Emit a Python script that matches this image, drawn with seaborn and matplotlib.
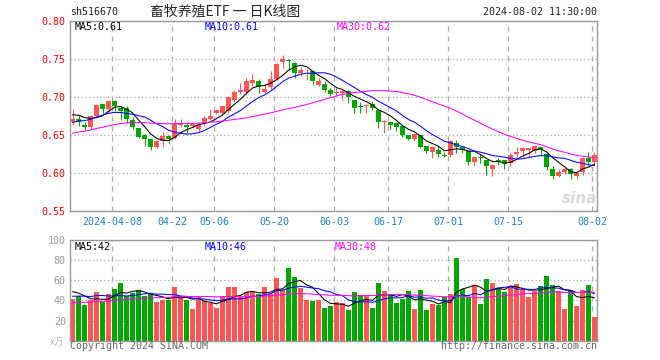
import numpy as np
import pandas as pd
import matplotlib
matplotlib.use("Agg")
import matplotlib.pyplot as plt
import seaborn as sns

sns.set_style("white")
plt.rcParams["font.family"] = ["DejaVu Sans Mono", "Noto Sans CJK SC"]

# trading days 2024-03-26 .. 2024-08-02 (exchange holidays removed)
holidays = ["2024-04-04", "2024-04-05", "2024-05-01", "2024-05-02", "2024-05-03", "2024-06-10"]
dates = pd.bdate_range("2024-03-26", "2024-08-02")
dates = dates[~dates.isin(pd.to_datetime(holidays))]

open_ = [0.667, 0.671, 0.664, 0.661, 0.676, 0.691, 0.684, 0.695, 0.686, 0.686,
         0.670, 0.659, 0.650, 0.645, 0.634, 0.642, 0.649, 0.647, 0.664, 0.663,
         0.662, 0.658, 0.666, 0.671, 0.680, 0.680, 0.682, 0.697, 0.707, 0.707,
         0.719, 0.721, 0.707, 0.713, 0.724, 0.746, 0.749, 0.745, 0.732, 0.734,
         0.734, 0.716, 0.718, 0.710, 0.706, 0.706, 0.708, 0.696, 0.688, 0.688,
         0.691, 0.683, 0.668, 0.667, 0.666, 0.662, 0.651, 0.645, 0.650, 0.636,
         0.628, 0.631, 0.624, 0.624, 0.640, 0.635, 0.630, 0.615, 0.622, 0.618,
         0.606, 0.617, 0.617, 0.613, 0.625, 0.630, 0.631, 0.629, 0.634, 0.625,
         0.606, 0.596, 0.602, 0.606, 0.596, 0.602, 0.620, 0.615]
high = [0.684, 0.675, 0.668, 0.677, 0.691, 0.691, 0.696, 0.696, 0.688, 0.688,
        0.674, 0.660, 0.652, 0.647, 0.644, 0.655, 0.650, 0.671, 0.671, 0.667,
        0.667, 0.666, 0.675, 0.685, 0.685, 0.689, 0.701, 0.710, 0.719, 0.726,
        0.731, 0.724, 0.718, 0.734, 0.745, 0.756, 0.751, 0.746, 0.740, 0.737,
        0.734, 0.725, 0.721, 0.712, 0.712, 0.710, 0.709, 0.696, 0.694, 0.691,
        0.695, 0.683, 0.670, 0.668, 0.668, 0.662, 0.651, 0.653, 0.650, 0.636,
        0.636, 0.636, 0.628, 0.644, 0.644, 0.636, 0.630, 0.622, 0.626, 0.618,
        0.612, 0.620, 0.618, 0.627, 0.634, 0.635, 0.633, 0.637, 0.634, 0.626,
        0.609, 0.606, 0.607, 0.607, 0.603, 0.622, 0.628, 0.628]
low = [0.664, 0.662, 0.657, 0.658, 0.675, 0.679, 0.681, 0.682, 0.670, 0.666,
       0.658, 0.646, 0.636, 0.631, 0.633, 0.634, 0.640, 0.645, 0.661, 0.653,
       0.660, 0.656, 0.662, 0.670, 0.678, 0.677, 0.680, 0.694, 0.705, 0.705,
       0.715, 0.706, 0.706, 0.711, 0.723, 0.739, 0.736, 0.725, 0.728, 0.723,
       0.716, 0.715, 0.707, 0.702, 0.702, 0.697, 0.692, 0.680, 0.680, 0.680,
       0.683, 0.660, 0.653, 0.658, 0.656, 0.648, 0.644, 0.643, 0.633, 0.627,
       0.620, 0.622, 0.622, 0.622, 0.627, 0.627, 0.611, 0.609, 0.614, 0.598,
       0.596, 0.611, 0.606, 0.610, 0.622, 0.622, 0.622, 0.627, 0.623, 0.605,
       0.593, 0.595, 0.599, 0.593, 0.592, 0.598, 0.610, 0.611]
close = [0.672, 0.667, 0.661, 0.676, 0.690, 0.685, 0.695, 0.688, 0.682, 0.672,
         0.661, 0.648, 0.645, 0.634, 0.642, 0.649, 0.645, 0.665, 0.666, 0.661,
         0.665, 0.663, 0.673, 0.676, 0.683, 0.688, 0.700, 0.707, 0.710, 0.721,
         0.723, 0.713, 0.711, 0.724, 0.744, 0.751, 0.748, 0.732, 0.736, 0.735,
         0.721, 0.721, 0.710, 0.705, 0.707, 0.708, 0.700, 0.686, 0.687, 0.690,
         0.686, 0.668, 0.669, 0.664, 0.661, 0.651, 0.645, 0.652, 0.635, 0.629,
         0.635, 0.626, 0.623, 0.642, 0.635, 0.631, 0.615, 0.622, 0.620, 0.609,
         0.611, 0.616, 0.612, 0.624, 0.628, 0.633, 0.633, 0.636, 0.631, 0.608,
         0.596, 0.602, 0.606, 0.599, 0.601, 0.620, 0.615, 0.624]
volume = [41, 44, 35, 40, 48, 38, 46, 51, 57, 44,
          47, 50, 44, 46, 38, 40, 40, 53, 42, 40,
          31, 44, 39, 37, 32, 44, 53, 53, 43, 48,
          48, 46, 53, 46, 62, 50, 72, 63, 52, 40,
          39, 40, 32, 34, 38, 37, 30, 48, 45, 45,
          32, 57, 49, 45, 37, 41, 49, 31, 50, 30,
          36, 35, 43, 46, 82, 51, 43, 54, 36, 61,
          57, 52, 48, 54, 56, 50, 43, 49, 54, 64,
          55, 49, 31, 50, 34, 50, 55, 24]

# earlier sessions (off chart), only used to start the moving averages
prev_close = [0.620, 0.625, 0.628, 0.633, 0.636, 0.640, 0.638, 0.642, 0.645, 0.648,
              0.646, 0.650, 0.652, 0.655, 0.653, 0.657, 0.660, 0.658, 0.662, 0.663,
              0.650, 0.655, 0.658, 0.660, 0.662, 0.670, 0.676, 0.682, 0.685]
prev_volume = [30, 33, 36, 28, 35, 38, 31, 40, 29, 34,
               37, 33, 36, 32, 39, 35, 30, 38, 36, 36,
               42, 36, 44, 38, 37, 52, 48, 55, 48]

tick_dates = ["2024-04-08", "2024-04-22", "2024-05-06", "2024-05-20", "2024-06-03",
              "2024-06-17", "2024-07-01", "2024-07-15", "2024-08-02"]
tick_labels = ["2024-04-08", "04-22", "05-06", "05-20", "06-03",
               "06-17", "07-01", "07-15", "08-02"]

df = pd.DataFrame({"date": dates, "open": open_, "high": high, "low": low,
                   "close": close, "volume": volume})
df["i"] = np.arange(len(df))


def moving(prev, cur, n):
    s = pd.Series(prev + cur, dtype=float)
    return s.rolling(n).mean().iloc[len(prev):].to_numpy()


for n in (5, 10, 30):
    df[f"ma{n}"] = moving(prev_close, close, n)
    df[f"vma{n}"] = moving(prev_volume, volume, n)

UP, DOWN = "#ff5555", "#00a800"
df["color"] = np.where(df.close >= df.open, UP, DOWN)
ma_colors = {5: "black", 10: "#0000ff", 30: "#ff00ff"}

W, H = 660, 360
fig = plt.figure(figsize=(W / 100, H / 100), dpi=100)


def px_axes(l, t, r, b):
    return fig.add_axes([l / W, 1 - b / H, (r - l) / W, (b - t) / H])


def px_text(x, y, s, **kw):
    fig.text(x / W, 1 - y / H, s, va="center", **kw)


ax = px_axes(70, 21.3, 597, 211.3)
axv = px_axes(70, 240, 597, 340.7)

half = 2.5 / 6
tick_pos = [df.i[df.date == pd.Timestamp(d)].iloc[0] - half for d in tick_dates]

# candles
ax.vlines(df.i, df.low, df.high, colors=df.color, lw=0.75)
body = (df.close - df.open).abs().clip(lower=0.0008)
ax.bar(df.i, body, bottom=np.minimum(df.open, df.close), width=5 / 6,
       color=df.color, linewidth=0)
for n, c in ma_colors.items():
    sns.lineplot(x=df.i, y=df[f"ma{n}"], ax=ax, color=c, lw=0.75, legend=False)

# volume
axv.bar(df.i, df.volume, width=5 / 6, color=df.color, linewidth=0)
for n, c in ma_colors.items():
    sns.lineplot(x=df.i, y=df[f"vma{n}"], ax=axv, color=c, lw=0.75, legend=False)

for a in (ax, axv):
    a.set_xlim(-half, len(df) - 1 + half)
    a.set_xlabel("")
    a.set_ylabel("")
    for sp in a.spines.values():
        sp.set_color("#999999")
        sp.set_linewidth(1)
    a.set_xticks(tick_pos)
    a.grid(axis="x", color="#aaaaaa", ls=(0, (4, 4)), lw=0.9)
    a.grid(axis="y", color="#aaaaaa", ls=(0, (1, 2)), lw=0.9)
    a.tick_params(length=0)
    a.set_axisbelow(True)

ax.set_ylim(0.55, 0.80)
ax.set_yticks([0.55, 0.60, 0.65, 0.70, 0.75, 0.80])
ax.set_yticklabels([f"{v:.2f}" for v in ax.get_yticks()])
ax.tick_params(axis="y", labelcolor="red", labelsize=7.2, pad=3)
ax.set_xticklabels(tick_labels)
ax.tick_params(axis="x", labelcolor="#1f7fd0", labelsize=7.2, pad=4)

axv.set_ylim(0, 100)
axv.set_yticks([20, 40, 60, 80, 100])
axv.set_yticklabels(["20", "40", "60", "80", "100"])
axv.tick_params(axis="y", labelcolor="#999999", labelsize=7.2, pad=3)
axv.set_xticklabels([])

# header and panel labels
cjk = ["Noto Sans CJK SC", "DejaVu Sans"]
px_text(70, 12, "sh516670", fontsize=7.2, color="#222222")
px_text(225, 12, "畜牧养殖ETF 一 日K线图", fontsize=10, ha="center", family=cjk)
px_text(597, 12, "2024-08-02 11:30:00", fontsize=7.2, ha="right", color="#222222")

last = df.iloc[-1]
px_text(75, 27, f"MA5:{last.ma5:.2f}", fontsize=7.2, color="black")
px_text(205, 27, f"MA10:{last.ma10:.2f}", fontsize=7.2, color="#0000ff")
px_text(337, 27, f"MA30:{last.ma30:.2f}", fontsize=7.2, color="#ff00ff")
px_text(75, 247, f"MA5:{int(last.vma5)}", fontsize=7.2, color="black")
px_text(205, 247, f"MA10:{int(last.vma10)}", fontsize=7.2, color="#0000ff")
px_text(335, 247, f"MA30:{int(last.vma30)}", fontsize=7.2, color="#ff00ff")

px_text(64, 342, "x万", fontsize=7, ha="right", color="#bbbbbb", family=cjk)
px_text(70, 346, "Copyright 2024 SINA.COM", fontsize=7.2, color="#666666")
px_text(597, 346, "http://finance.sina.com.cn", fontsize=7.2, ha="right", color="#666666")
px_text(580, 198, "sina", fontsize=11, ha="center", color="#d8d8d8",
        style="italic", weight="bold", family=["DejaVu Sans"])

fig.savefig("out.png", dpi=100)
